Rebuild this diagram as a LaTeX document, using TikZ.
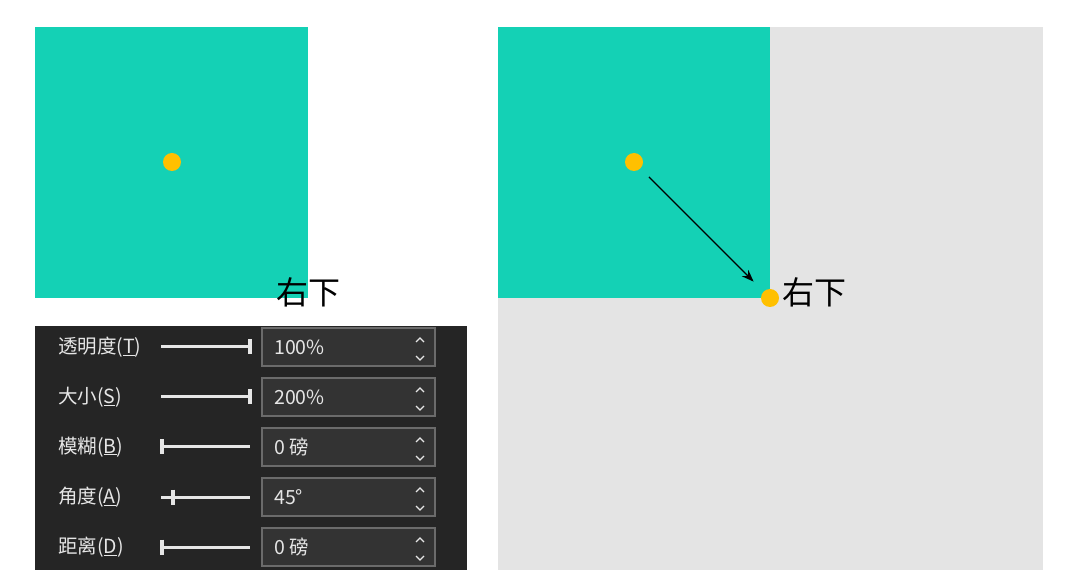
\documentclass[tikz,border=0pt]{standalone}
\usepackage{fontspec}
\setmainfont{Noto Sans CJK SC}
\usetikzlibrary{arrows.meta}
\definecolor{teal1}{HTML}{14D1B5}
\definecolor{dotc}{HTML}{FFC000}
\definecolor{bgray}{HTML}{E4E4E4}
\definecolor{panelc}{HTML}{252525}
\definecolor{boxc}{HTML}{333333}
\definecolor{boxedge}{HTML}{6B6B6B}
\definecolor{uitext}{HTML}{E6E6E6}
\begin{document}
\begin{tikzpicture}[x=1pt,y=-1pt]
        \tikzstyle{dot}=[circle,fill=dotc,inner sep=0pt,minimum size=18pt]
        \tikzstyle{corner}=[inner sep=0pt,font=\fontsize{32}{32}\selectfont]
        \tikzstyle{uilabel}=[anchor=west,inner sep=0pt,text=uitext,font=\fontsize{19.5}{19.5}\selectfont]
        \tikzstyle{spinbox}=[draw=boxedge,line width=1.5pt,fill=boxc]
        \tikzstyle{slider}=[draw=uitext,line width=3pt]

        \useasboundingbox (0,0) rectangle (1080,585);

        % left: square before the shift
        \fill[teal1] (35,27) rectangle (308,298);
        \node [dot] (cA) at (172,162) {};
        \node [corner] (tA) at (308,292) {右下};

        % settings panel
        \fill[panelc] (35,326) rectangle (467,570);
        \foreach \lab/\val/\knob [count=\i] in {
            透明度(\underline{T})/100\%/250,
            大小(\underline{S})/200\%/250,
            模糊(\underline{B})/0 磅/162,
            角度(\underline{A})/45°/173,
            距离(\underline{D})/0 磅/162}
        {
          \pgfmathsetmacro{\yy}{347+50*(\i-1)}
          \node [uilabel] (lab\i) at (58,\yy) {\lab};
          \draw [slider] (161,\yy) -- (250,\yy);
          \draw [slider,line width=3.5pt] (\knob,\yy-7.5) -- (\knob,\yy+7.5);
          \draw [spinbox] (262,\yy-19) rectangle (435,\yy+19);
          \node [uilabel] (val\i) at (274,\yy) {\val};
          \draw [uitext,line width=1.2pt] (416,\yy-5) -- (420,\yy-9) -- (424,\yy-5);
          \draw [uitext,line width=1.2pt] (416,\yy+9) -- (420,\yy+13) -- (424,\yy+9);
        }

        % right: shifted by the offset
        \fill[bgray] (498,27) rectangle (1043,570);
        \fill[teal1] (498,27) rectangle (770,298);
        \node [dot] (cB) at (634,162) {};
        \node [dot] (cC) at (770,298) {};
        \node [corner,anchor=west] (tB) at (782,292) {右下};
        \draw [-{Stealth[length=12pt,width=9pt]},line width=1.4pt,shorten <=12pt,shorten >=14pt] (cB) -- (cC);
\end{tikzpicture}
\end{document}
